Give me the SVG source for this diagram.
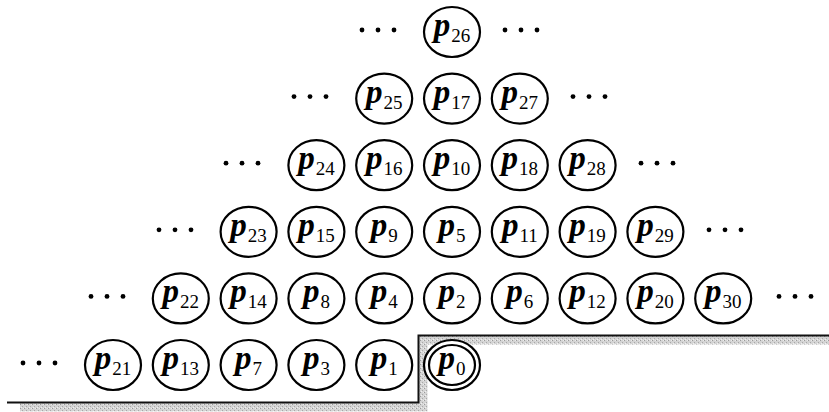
<svg xmlns="http://www.w3.org/2000/svg" width="829" height="412" viewBox="0 0 829 412">
<defs>
<pattern id="stip" width="4" height="4" patternUnits="userSpaceOnUse">
<rect width="4" height="4" fill="#d4d4d4"/>
<rect x="0" y="0" width="1" height="1" fill="#9a9a9a"/>
<rect x="2" y="2" width="1" height="1" fill="#a8a8a8"/>
<rect x="3" y="0" width="1" height="1" fill="#ececec"/>
<rect x="1" y="3" width="1" height="1" fill="#f0f0f0"/>
</pattern>
</defs>
<style>
.n{fill:#fff;stroke:#000;stroke-width:2.2}
.t{font-family:'Liberation Serif',serif;fill:#000}
.p{font-size:33px;font-weight:bold;font-style:italic}
.s{font-size:19px;font-weight:normal;font-style:normal}
.d{fill:#000}
</style>
<g id="wall">
<polyline points="20,407 423,407 423,340 829,340" fill="none" stroke="url(#stip)" stroke-width="9"/>
<polyline points="7,402.5 418.5,402.5 418.5,335.5 829,335.5" fill="none" stroke="#111" stroke-width="2"/>
</g>
<g id="dots" class="d">
<circle cx="362" cy="30" r="2.4"/><circle cx="378" cy="30" r="2.4"/><circle cx="394" cy="30" r="2.4"/>
<circle cx="505" cy="30" r="2.4"/><circle cx="521" cy="30" r="2.4"/><circle cx="537" cy="30" r="2.4"/>
<circle cx="294" cy="96.6" r="2.4"/><circle cx="310" cy="96.6" r="2.4"/><circle cx="326" cy="96.6" r="2.4"/>
<circle cx="573" cy="96.6" r="2.4"/><circle cx="589" cy="96.6" r="2.4"/><circle cx="605" cy="96.6" r="2.4"/>
<circle cx="226" cy="163.2" r="2.4"/><circle cx="242" cy="163.2" r="2.4"/><circle cx="258" cy="163.2" r="2.4"/>
<circle cx="641" cy="163.2" r="2.4"/><circle cx="657" cy="163.2" r="2.4"/><circle cx="673" cy="163.2" r="2.4"/>
<circle cx="159" cy="229.8" r="2.4"/><circle cx="175" cy="229.8" r="2.4"/><circle cx="191" cy="229.8" r="2.4"/>
<circle cx="709" cy="229.8" r="2.4"/><circle cx="725" cy="229.8" r="2.4"/><circle cx="741" cy="229.8" r="2.4"/>
<circle cx="91" cy="296.4" r="2.4"/><circle cx="107" cy="296.4" r="2.4"/><circle cx="123" cy="296.4" r="2.4"/>
<circle cx="779" cy="296.4" r="2.4"/><circle cx="795" cy="296.4" r="2.4"/><circle cx="811" cy="296.4" r="2.4"/>
<circle cx="23" cy="363" r="2.4"/><circle cx="39" cy="363" r="2.4"/><circle cx="55" cy="363" r="2.4"/>
</g>
<g font-family="Liberation Serif, serif">
<g id="n26"><ellipse class="n" cx="452" cy="32" rx="28" ry="25"/><text class="t" x="452" y="36" text-anchor="middle"><tspan class="p">p</tspan><tspan class="s" dx="1" dy="6">26</tspan></text></g>
<g id="n25"><ellipse class="n" cx="384.2" cy="98.6" rx="28" ry="25"/><text class="t" x="384.2" y="102.6" text-anchor="middle"><tspan class="p">p</tspan><tspan class="s" dx="1" dy="6">25</tspan></text></g>
<g id="n17"><ellipse class="n" cx="452" cy="98.6" rx="28" ry="25"/><text class="t" x="452" y="102.6" text-anchor="middle"><tspan class="p">p</tspan><tspan class="s" dx="1" dy="6">17</tspan></text></g>
<g id="n27"><ellipse class="n" cx="519.8" cy="98.6" rx="28" ry="25"/><text class="t" x="519.8" y="102.6" text-anchor="middle"><tspan class="p">p</tspan><tspan class="s" dx="1" dy="6">27</tspan></text></g>
<g id="n24"><ellipse class="n" cx="316.4" cy="165.2" rx="28" ry="25"/><text class="t" x="316.4" y="169.2" text-anchor="middle"><tspan class="p">p</tspan><tspan class="s" dx="1" dy="6">24</tspan></text></g>
<g id="n16"><ellipse class="n" cx="384.2" cy="165.2" rx="28" ry="25"/><text class="t" x="384.2" y="169.2" text-anchor="middle"><tspan class="p">p</tspan><tspan class="s" dx="1" dy="6">16</tspan></text></g>
<g id="n10"><ellipse class="n" cx="452" cy="165.2" rx="28" ry="25"/><text class="t" x="452" y="169.2" text-anchor="middle"><tspan class="p">p</tspan><tspan class="s" dx="1" dy="6">10</tspan></text></g>
<g id="n18"><ellipse class="n" cx="519.8" cy="165.2" rx="28" ry="25"/><text class="t" x="519.8" y="169.2" text-anchor="middle"><tspan class="p">p</tspan><tspan class="s" dx="1" dy="6">18</tspan></text></g>
<g id="n28"><ellipse class="n" cx="587.6" cy="165.2" rx="28" ry="25"/><text class="t" x="587.6" y="169.2" text-anchor="middle"><tspan class="p">p</tspan><tspan class="s" dx="1" dy="6">28</tspan></text></g>
<g id="n23"><ellipse class="n" cx="248.6" cy="231.8" rx="28" ry="25"/><text class="t" x="248.6" y="235.8" text-anchor="middle"><tspan class="p">p</tspan><tspan class="s" dx="1" dy="6">23</tspan></text></g>
<g id="n15"><ellipse class="n" cx="316.4" cy="231.8" rx="28" ry="25"/><text class="t" x="316.4" y="235.8" text-anchor="middle"><tspan class="p">p</tspan><tspan class="s" dx="1" dy="6">15</tspan></text></g>
<g id="n9"><ellipse class="n" cx="384.2" cy="231.8" rx="28" ry="25"/><text class="t" x="384.2" y="235.8" text-anchor="middle"><tspan class="p">p</tspan><tspan class="s" dx="1" dy="6">9</tspan></text></g>
<g id="n5"><ellipse class="n" cx="452" cy="231.8" rx="28" ry="25"/><text class="t" x="452" y="235.8" text-anchor="middle"><tspan class="p">p</tspan><tspan class="s" dx="1" dy="6">5</tspan></text></g>
<g id="n11"><ellipse class="n" cx="519.8" cy="231.8" rx="28" ry="25"/><text class="t" x="519.8" y="235.8" text-anchor="middle"><tspan class="p">p</tspan><tspan class="s" dx="1" dy="6">11</tspan></text></g>
<g id="n19"><ellipse class="n" cx="587.6" cy="231.8" rx="28" ry="25"/><text class="t" x="587.6" y="235.8" text-anchor="middle"><tspan class="p">p</tspan><tspan class="s" dx="1" dy="6">19</tspan></text></g>
<g id="n29"><ellipse class="n" cx="655.4" cy="231.8" rx="28" ry="25"/><text class="t" x="655.4" y="235.8" text-anchor="middle"><tspan class="p">p</tspan><tspan class="s" dx="1" dy="6">29</tspan></text></g>
<g id="n22"><ellipse class="n" cx="180.8" cy="298.4" rx="28" ry="25"/><text class="t" x="180.8" y="302.4" text-anchor="middle"><tspan class="p">p</tspan><tspan class="s" dx="1" dy="6">22</tspan></text></g>
<g id="n14"><ellipse class="n" cx="248.6" cy="298.4" rx="28" ry="25"/><text class="t" x="248.6" y="302.4" text-anchor="middle"><tspan class="p">p</tspan><tspan class="s" dx="1" dy="6">14</tspan></text></g>
<g id="n8"><ellipse class="n" cx="316.4" cy="298.4" rx="28" ry="25"/><text class="t" x="316.4" y="302.4" text-anchor="middle"><tspan class="p">p</tspan><tspan class="s" dx="1" dy="6">8</tspan></text></g>
<g id="n4"><ellipse class="n" cx="384.2" cy="298.4" rx="28" ry="25"/><text class="t" x="384.2" y="302.4" text-anchor="middle"><tspan class="p">p</tspan><tspan class="s" dx="1" dy="6">4</tspan></text></g>
<g id="n2"><ellipse class="n" cx="452" cy="298.4" rx="28" ry="25"/><text class="t" x="452" y="302.4" text-anchor="middle"><tspan class="p">p</tspan><tspan class="s" dx="1" dy="6">2</tspan></text></g>
<g id="n6"><ellipse class="n" cx="519.8" cy="298.4" rx="28" ry="25"/><text class="t" x="519.8" y="302.4" text-anchor="middle"><tspan class="p">p</tspan><tspan class="s" dx="1" dy="6">6</tspan></text></g>
<g id="n12"><ellipse class="n" cx="587.6" cy="298.4" rx="28" ry="25"/><text class="t" x="587.6" y="302.4" text-anchor="middle"><tspan class="p">p</tspan><tspan class="s" dx="1" dy="6">12</tspan></text></g>
<g id="n20"><ellipse class="n" cx="655.4" cy="298.4" rx="28" ry="25"/><text class="t" x="655.4" y="302.4" text-anchor="middle"><tspan class="p">p</tspan><tspan class="s" dx="1" dy="6">20</tspan></text></g>
<g id="n30"><ellipse class="n" cx="723.2" cy="298.4" rx="28" ry="25"/><text class="t" x="723.2" y="302.4" text-anchor="middle"><tspan class="p">p</tspan><tspan class="s" dx="1" dy="6">30</tspan></text></g>
<g id="n21"><ellipse class="n" cx="113" cy="365" rx="28" ry="25"/><text class="t" x="113" y="369" text-anchor="middle"><tspan class="p">p</tspan><tspan class="s" dx="1" dy="6">21</tspan></text></g>
<g id="n13"><ellipse class="n" cx="180.8" cy="365" rx="28" ry="25"/><text class="t" x="180.8" y="369" text-anchor="middle"><tspan class="p">p</tspan><tspan class="s" dx="1" dy="6">13</tspan></text></g>
<g id="n7"><ellipse class="n" cx="248.6" cy="365" rx="28" ry="25"/><text class="t" x="248.6" y="369" text-anchor="middle"><tspan class="p">p</tspan><tspan class="s" dx="1" dy="6">7</tspan></text></g>
<g id="n3"><ellipse class="n" cx="316.4" cy="365" rx="28" ry="25"/><text class="t" x="316.4" y="369" text-anchor="middle"><tspan class="p">p</tspan><tspan class="s" dx="1" dy="6">3</tspan></text></g>
<g id="n1"><ellipse class="n" cx="384.2" cy="365" rx="28" ry="25"/><text class="t" x="384.2" y="369" text-anchor="middle"><tspan class="p">p</tspan><tspan class="s" dx="1" dy="6">1</tspan></text></g>
<g id="n0"><ellipse class="n" cx="452" cy="365" rx="28" ry="25"/><ellipse class="n" cx="452" cy="365" rx="23" ry="20"/><text class="t" x="452" y="369" text-anchor="middle"><tspan class="p">p</tspan><tspan class="s" dx="1" dy="6">0</tspan></text></g>
</g>
</svg>
